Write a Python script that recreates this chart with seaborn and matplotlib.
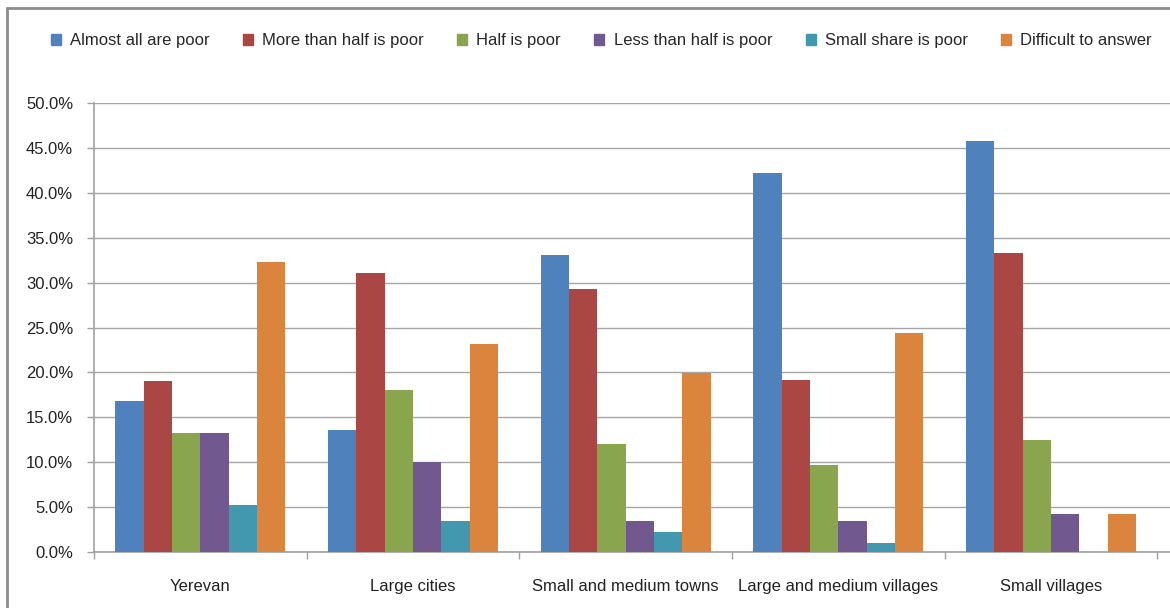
import pandas as pd
import matplotlib.pyplot as plt
import matplotlib.ticker as mticker
from matplotlib.lines import Line2D
import seaborn as sns

# data (percent)
settlements = ['Yerevan', 'Large cities', 'Small and medium towns',
               'Large and medium villages', 'Small villages']
answers = ['Almost all are poor', 'More than half is poor', 'Half is poor',
           'Less than half is poor', 'Small share is poor', 'Difficult to answer']
almost_all = [16.8, 13.6, 33.1, 42.2, 45.8]
more_than_half = [19.0, 31.1, 29.3, 19.2, 33.3]
half = [13.3, 18.0, 12.0, 9.7, 12.5]
less_than_half = [13.3, 10.0, 3.4, 3.5, 4.2]
small_share = [5.2, 3.5, 2.2, 1.0, 0.0]
difficult = [32.3, 23.2, 19.9, 24.4, 4.2]

colors = ['#4F81BD', '#AA4643', '#89A54E', '#71588F', '#4198AF', '#DB843D']

series = [almost_all, more_than_half, half, less_than_half, small_share, difficult]
rows = []
for ans, vals in zip(answers, series):
    for s, v in zip(settlements, vals):
        rows.append({'Settlement': s, 'Answer': ans, 'Share': v})
df = pd.DataFrame(rows)

sns.set_style("white")
plt.rcParams['font.family'] = ['Liberation Sans', 'DejaVu Sans']

fig = plt.figure(figsize=(11.7, 6.08), dpi=100)
ax = fig.add_axes([94 / 1170, 1 - 552 / 608, 1 - 94 / 1170, (552 - 103) / 608])

sns.barplot(data=df, x='Settlement', y='Share', hue='Answer', order=settlements,
            hue_order=answers, palette=colors, width=0.8, saturation=1,
            linewidth=0, ax=ax, legend=False, zorder=3)

ax.set_ylim(0, 50)
ax.set_xlim(-0.5, 4.56)
ax.yaxis.set_major_locator(mticker.MultipleLocator(5))
ax.yaxis.set_major_formatter(mticker.FormatStrFormatter('%.1f%%'))
ax.grid(axis='y', color='#A6A6A6', linewidth=1, zorder=0)
ax.set_axisbelow(True)
ax.set_xlabel('')
ax.set_ylabel('')

for side in ['top', 'right']:
    ax.spines[side].set_visible(False)
for side in ['left', 'bottom']:
    ax.spines[side].set_color('#A0A0A0')
    ax.spines[side].set_linewidth(1.2)

ax.tick_params(axis='y', length=5, width=1, color='#A0A0A0', direction='out',
               pad=10, labelsize=12, labelcolor='#222222', left=True)
ax.set_xticks(range(len(settlements)))
ax.set_xticklabels(settlements)
ax.tick_params(axis='x', which='major', length=0, pad=19.5, labelsize=12,
               labelcolor='#222222')
ax.set_xticks([i - 0.5 for i in range(len(settlements) + 1)], minor=True)
ax.tick_params(axis='x', which='minor', length=5, width=1, color='#A0A0A0',
               direction='out', bottom=True)

handles = [plt.Rectangle((0, 0), 1, 1, color=c) for c in colors]
fig.legend(handles, answers, loc='center', bbox_to_anchor=(0.514, 0.933),
           ncol=6, frameon=False, fontsize=12, handlelength=0.6,
           handleheight=0.6, handletextpad=0.55, columnspacing=2.0)

# outer chart frame
fig.add_artist(Line2D([7 / 1170, 7 / 1170], [0, 1 - 8 / 608],
                      transform=fig.transFigure, color='#8C8C8C', linewidth=2))
fig.add_artist(Line2D([7 / 1170, 1], [1 - 8 / 608, 1 - 8 / 608],
                      transform=fig.transFigure, color='#8C8C8C', linewidth=2))

fig.savefig('out.png', dpi=100)
